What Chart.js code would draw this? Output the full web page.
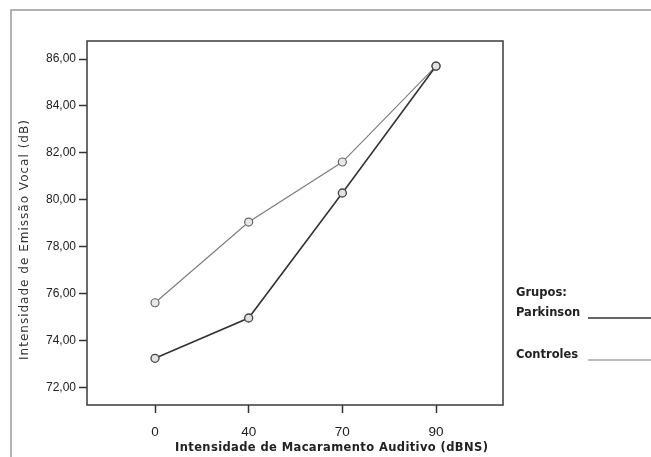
<!DOCTYPE html>
<html>
<head>
<meta charset="utf-8">
<script src="https://cdn.jsdelivr.net/npm/chart.js@4"></script>
<style>
  html, body { margin: 0; padding: 0; background: #ffffff; }
  #wrap { width: 651px; height: 457px; position: relative; }
</style>
</head>
<body>
<div id="wrap"><canvas id="chart" width="651" height="457"></canvas></div>
<script>
  // Data
  const levels = ['0', '40', '70', '90'];
  const parkinson = [73.24, 74.96, 80.29, 85.70];
  const controles = [75.61, 79.05, 81.61, 85.70];
  const yTicks = [72, 74, 76, 78, 80, 82, 84, 86];

  const xTitle = 'Intensidade de Macaramento Auditivo (dBNS)';
  const yTitle = 'Intensidade de Emissão Vocal (dB)';
  const legendTitle = 'Grupos:';

  function toPoints(arr) {
    return arr.map(function (v, i) { return { x: i, y: v }; });
  }

  // draw text stretched to a target width with letter spacing
  function fitText(ctx, text, x, y, target) {
    ctx.letterSpacing = '0px';
    const w = ctx.measureText(text).width;
    const sp = (target - w) / (text.length - 1);
    ctx.letterSpacing = sp.toFixed(2) + 'px';
    ctx.fillText(text, x, y);
    ctx.letterSpacing = '0px';
  }

  // frames, axis titles and the side legend
  const decor = {
    id: 'decor',
    afterDraw: function (chart) {
      const ctx = chart.ctx;
      const a = chart.chartArea;
      ctx.save();

      // outer frame (top + left)
      ctx.strokeStyle = '#9a9a9a';
      ctx.lineWidth = 1.5;
      ctx.beginPath();
      ctx.moveTo(651, 10);
      ctx.lineTo(11, 10);
      ctx.lineTo(11, 457);
      ctx.stroke();

      // plot frame
      ctx.strokeStyle = '#3a3a3a';
      ctx.lineWidth = 1.5;
      ctx.strokeRect(a.left, a.top, a.right - a.left, a.bottom - a.top);

      // x title
      ctx.fillStyle = '#222222';
      ctx.font = 'bold 11.5px "DejaVu Sans"';
      ctx.textAlign = 'left';
      ctx.textBaseline = 'middle';
      fitText(ctx, xTitle, 175, 448, 313);

      // y title
      ctx.save();
      ctx.translate(25, 360);
      ctx.rotate(-Math.PI / 2);
      ctx.font = '12px "DejaVu Sans"';
      ctx.fillStyle = '#333333';
      fitText(ctx, yTitle, 0, 0, 240);
      ctx.restore();

      // legend
      ctx.font = 'bold 11.5px "DejaVu Sans"';
      ctx.fillStyle = '#222222';
      ctx.fillText(legendTitle, 516, 293);
      const rows = [313, 355];
      chart.data.datasets.forEach(function (ds, i) {
        ctx.fillStyle = '#222222';
        ctx.fillText(ds.label, 516, rows[i]);
        ctx.strokeStyle = ds.borderColor;
        ctx.lineWidth = ds.borderWidth;
        ctx.beginPath();
        ctx.moveTo(588, rows[i] + 5);
        ctx.lineTo(651, rows[i] + 5);
        ctx.stroke();
      });

      ctx.restore();
    }
  };

  new Chart(document.getElementById('chart'), {
    type: 'line',
    data: {
      datasets: [
        {
          label: 'Parkinson',
          data: toPoints(parkinson),
          borderColor: '#333333',
          borderWidth: 1.6,
          pointRadius: 4,
          pointBorderWidth: 1.3,
          pointBorderColor: '#444444',
          pointBackgroundColor: '#e2e2e2',
          tension: 0,
          fill: false
        },
        {
          label: 'Controles',
          data: toPoints(controles),
          borderColor: '#7a7a7a',
          borderWidth: 1.1,
          pointRadius: 4,
          pointBorderWidth: 1.2,
          pointBorderColor: '#666666',
          pointBackgroundColor: '#e8e8e8',
          tension: 0,
          fill: false
        }
      ]
    },
    options: {
      responsive: false,
      animation: false,
      layout: { padding: { left: 0, top: 41, right: 148, bottom: 0 } },
      plugins: {
        legend: { display: false },
        tooltip: { enabled: false }
      },
      scales: {
        x: {
          type: 'linear',
          min: -0.726,
          max: 3.715,
          border: { display: false },
          grid: {
            drawOnChartArea: false,
            drawTicks: true,
            tickLength: 8,
            tickWidth: 1.5,
            tickColor: '#333333'
          },
          afterBuildTicks: function (scale) {
            scale.ticks = levels.map(function (l, i) { return { value: i }; });
          },
          afterFit: function (scale) { scale.height = 52; },
          ticks: {
            padding: 11,
            maxRotation: 0,
            color: '#222222',
            font: { family: '"Liberation Sans", Arial', size: 13.5 },
            callback: function (v) { return levels[v]; }
          }
        },
        y: {
          min: 71.25,
          max: 86.77,
          border: { display: false },
          grid: {
            drawOnChartArea: false,
            drawTicks: true,
            tickLength: 8,
            tickWidth: 1.5,
            tickColor: '#333333'
          },
          afterBuildTicks: function (scale) {
            scale.ticks = yTicks.map(function (v) { return { value: v }; });
          },
          afterFit: function (scale) { scale.width = 87; },
          ticks: {
            padding: 3,
            color: '#222222',
            font: { family: '"Liberation Sans", Arial', size: 12 },
            callback: function (v) { return v.toFixed(2).replace('.', ','); }
          }
        }
      }
    },
    plugins: [decor]
  });
</script>
</body>
</html>
